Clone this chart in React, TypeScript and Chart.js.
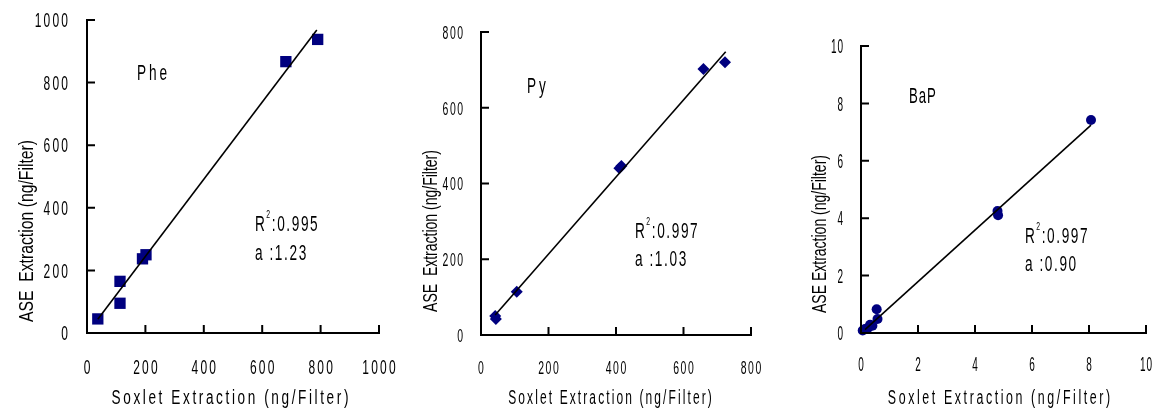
import React, { useEffect, useRef } from 'react';
import { Chart, registerables } from 'chart.js';

Chart.register(...registerables);

const FONT = "'Liberation Sans', Arial, sans-serif";
const NAVY = '#00007f';

// Phe panel
const pheSoxlet = [37, 113, 113, 190, 202, 681, 790];
const pheASE = [45, 95, 165, 237, 250, 867, 938];
const pheFitX = [37, 787];
const pheFitY = [44, 968];
const pheTicks = [0, 200, 400, 600, 800, 1000];

// Py panel
const pySoxlet = [42, 44, 106, 410, 416, 659, 723];
const pyASE = [50, 42, 114, 440, 446, 702, 720];
const pyFitX = [42, 725];
const pyFitY = [53, 748];
const pyTicks = [0, 200, 400, 600, 800];

// BaP panel
const bapSoxlet = [0.06, 0.14, 0.25, 0.32, 0.4, 0.55, 0.58, 4.79, 4.81, 8.07];
const bapASE = [0.09, 0.14, 0.18, 0.29, 0.25, 0.83, 0.49, 4.25, 4.1, 7.42];
const bapFitX = [0.14, 8.07];
const bapFitY = [0.12, 7.24];
const bapTicks = [0, 2, 4, 6, 8, 10];

const xTitleText = 'Soxlet Extraction (ng/Filter)';

type Style = { size: number; sx: number; spacing: number };

type Panel = {
  left: number;
  width: number;
  xs: number[];
  ys: number[];
  fitX: number[];
  fitY: number[];
  ticks: number[];
  pointStyle: string;
  radius: number;
  padTop: number;
  padRight: number;
  yWidth: number;
  xHeight: number;
  tickStyle: Style;
  yLabelGap: number;
  xLabelY: number;
  yTitle: { text: string; baseX: number; cy: number; style: Style };
  xTitle: { cx: number; cy: number; style: Style };
  name: { text: string; vx: number; vy: number; style: Style };
  r2: { value: string; slope: string; vx: number; vy1: number; vy2: number; style: Style };
};

const panels: Panel[] = [
  {
    left: 0, width: 400,
    xs: pheSoxlet, ys: pheASE, fitX: pheFitX, fitY: pheFitY, ticks: pheTicks,
    pointStyle: 'rect', radius: 8,
    padTop: 20, padRight: 21, yWidth: 87, xHeight: 77,
    tickStyle: { size: 20, sx: 0.6, spacing: 2.2 },
    yLabelGap: 19, xLabelY: 367,
    yTitle: { text: 'ASE  Extraction (ng/Filter)', baseX: 33, cy: 231, style: { size: 21, sx: 0.75, spacing: 0 } },
    xTitle: { cx: 230, cy: 397, style: { size: 20, sx: 0.68, spacing: 2.6 } },
    name: { text: 'Phe', vx: 171, vy: 834, style: { size: 22, sx: 0.62, spacing: 3 } },
    r2: { value: '0.995', slope: '1.23', vx: 575, vy1: 351, vy2: 259, style: { size: 22, sx: 0.62, spacing: 1.6 } },
  },
  {
    left: 390, width: 390,
    xs: pySoxlet, ys: pyASE, fitX: pyFitX, fitY: pyFitY, ticks: pyTicks,
    pointStyle: 'rectRot', radius: 6,
    padTop: 32, padRight: 29, yWidth: 91, xHeight: 75,
    tickStyle: { size: 19, sx: 0.55, spacing: 1.5 },
    yLabelGap: 18, xLabelY: 367,
    yTitle: { text: 'ASE  Extraction (ng/Filter)', baseX: 47, cy: 231, style: { size: 20, sx: 0.7, spacing: 0 } },
    xTitle: { cx: 220, cy: 397, style: { size: 20, sx: 0.6, spacing: 2.1 } },
    name: { text: 'Py', vx: 136, vy: 660, style: { size: 22, sx: 0.62, spacing: 3 } },
    r2: { value: '0.997', slope: '1.03', vx: 456, vy1: 277, vy2: 203, style: { size: 22, sx: 0.62, spacing: 1.6 } },
  },
  {
    left: 770, width: 383,
    xs: bapSoxlet, ys: bapASE, fitX: bapFitX, fitY: bapFitY, ticks: bapTicks,
    pointStyle: 'circle', radius: 5,
    padTop: 46, padRight: 7, yWidth: 91, xHeight: 77,
    tickStyle: { size: 20, sx: 0.5, spacing: 1 },
    yLabelGap: 18, xLabelY: 364,
    yTitle: { text: 'ASE Extraction (ng/Filter)', baseX: 56, cy: 234, style: { size: 20, sx: 0.7, spacing: 0 } },
    xTitle: { cx: 229, cy: 397, style: { size: 20, sx: 0.62, spacing: 2.6 } },
    name: { text: 'BaP', vx: 1.68, vy: 8.28, style: { size: 22, sx: 0.6, spacing: 1 } },
    r2: { value: '0.997', slope: '0.90', vx: 5.75, vy1: 3.42, vy2: 2.45, style: { size: 22, sx: 0.62, spacing: 1.6 } },
  },
];

type Ctx = CanvasRenderingContext2D & { letterSpacing: string };

// Measures condensed text; returns its visual width.
function measure(ctx: Ctx, text: string, st: Style): number {
  ctx.save();
  ctx.font = `${st.size}px ${FONT}`;
  ctx.letterSpacing = st.spacing / st.sx + 'px';
  const w = ctx.measureText(text).width * st.sx - st.spacing;
  ctx.restore();
  return w;
}

function drawText(
  ctx: Ctx, text: string, x: number, cy: number, st: Style,
  anchor: number, rotate = false,
) {
  const w = measure(ctx, text, st);
  ctx.save();
  ctx.font = `${st.size}px ${FONT}`;
  ctx.letterSpacing = st.spacing / st.sx + 'px';
  ctx.textAlign = 'left';
  ctx.textBaseline = 'alphabetic';
  ctx.fillStyle = '#000';
  if (rotate) {
    ctx.translate(x, cy);
    ctx.rotate(-Math.PI / 2);
    ctx.scale(st.sx, 1);
    ctx.fillText(text, (-w * anchor) / st.sx, 0);
  } else {
    const by = cy + st.size * 0.358;
    ctx.translate(x - w * anchor, by);
    ctx.scale(st.sx, 1);
    ctx.fillText(text, 0, 0);
  }
  ctx.restore();
  return w;
}

function makeOverlay(p: Panel) {
  return {
    id: 'overlay',
    afterDraw(chart: any) {
      const ctx = chart.ctx as Ctx;
      const xs = chart.scales.x;
      const ys = chart.scales.y;
      const { left, bottom } = chart.chartArea;
      const maxV = p.ticks[p.ticks.length - 1];
      ctx.save();
      ctx.strokeStyle = '#000';
      ctx.lineWidth = 2;
      ctx.lineCap = 'square';
      ctx.beginPath();
      ctx.moveTo(left, ys.getPixelForValue(maxV));
      ctx.lineTo(left, bottom);
      ctx.lineTo(xs.getPixelForValue(maxV), bottom);
      for (const v of p.ticks) {
        const py = ys.getPixelForValue(v);
        ctx.moveTo(left, py);
        ctx.lineTo(left + 7, py);
        const px = xs.getPixelForValue(v);
        ctx.moveTo(px, bottom);
        ctx.lineTo(px, bottom - 7);
      }
      ctx.stroke();
      ctx.restore();

      // tick labels
      for (const v of p.ticks) {
        const label = String(v);
        drawText(ctx, label, left - p.yLabelGap, ys.getPixelForValue(v), p.tickStyle, 1);
        drawText(ctx, label, xs.getPixelForValue(v), p.xLabelY, p.tickStyle, 0.5);
      }
      // axis titles
      drawText(ctx, p.yTitle.text, p.yTitle.baseX, p.yTitle.cy, p.yTitle.style, 0.5, true);
      drawText(ctx, xTitleText, p.xTitle.cx, p.xTitle.cy, p.xTitle.style, 0.5);
      // compound name
      drawText(ctx, p.name.text, xs.getPixelForValue(p.name.vx), ys.getPixelForValue(p.name.vy), p.name.style, 0);
      // R2 and slope
      const rx = xs.getPixelForValue(p.r2.vx);
      const ry1 = ys.getPixelForValue(p.r2.vy1);
      const ry2 = ys.getPixelForValue(p.r2.vy2);
      const st = p.r2.style;
      const wR = drawText(ctx, 'R', rx, ry1, st, 0);
      const sup: Style = { size: Math.round(st.size * 0.5), sx: st.sx, spacing: 0 };
      const wS = drawText(ctx, '2', rx + wR + st.spacing, ry1 - st.size * 0.42, sup, 0);
      drawText(ctx, ':' + p.r2.value, rx + wR + wS + st.spacing * 2, ry1, st, 0);
      drawText(ctx, 'a :' + p.r2.slope, rx, ry2, st, 0);
    },
  };
}

function PanelChart({ p }: { p: Panel }) {
  const ref = useRef<HTMLCanvasElement | null>(null);
  useEffect(() => {
    if (!ref.current) return;
    const points = p.xs.map((x, i) => ({ x, y: p.ys[i] }));
    const fit = p.fitX.map((x, i) => ({ x, y: p.fitY[i] }));
    const minV = p.ticks[0];
    const maxV = p.ticks[p.ticks.length - 1];
    const axisCommon = {
      type: 'linear' as const,
      min: minV,
      max: maxV,
      grid: { display: false, drawTicks: false },
      border: { display: false },
      ticks: { display: false },
      afterBuildTicks: (s: any) => { s.ticks = p.ticks.map((v) => ({ value: v })); },
    };
    const chart = new Chart(ref.current, {
      type: 'scatter',
      data: {
        datasets: [
          {
            data: fit,
            showLine: true,
            borderColor: '#000',
            borderWidth: 1.6,
            pointRadius: 0,
            pointHoverRadius: 0,
            clip: false as any,
          },
          {
            data: points,
            pointStyle: p.pointStyle as any,
            pointRadius: p.radius,
            pointHoverRadius: p.radius,
            backgroundColor: NAVY,
            borderColor: NAVY,
            borderWidth: 0,
            clip: false as any,
          },
        ],
      },
      options: {
        animation: false,
        responsive: false,
        events: [],
        layout: { padding: { top: p.padTop, right: p.padRight, left: 0, bottom: 0 } },
        plugins: { legend: { display: false }, tooltip: { enabled: false } },
        scales: {
          x: {
            ...axisCommon,
            position: 'bottom',
            afterFit: (s: any) => { s.height = p.xHeight; },
          },
          y: {
            ...axisCommon,
            position: 'left',
            afterFit: (s: any) => { s.width = p.yWidth; },
          },
        },
      },
      plugins: [makeOverlay(p) as any],
    });
    return () => chart.destroy();
  }, [p]);
  return (
    <canvas
      ref={ref}
      width={p.width}
      height={410}
      style={{ position: 'absolute', left: p.left, top: 0, width: p.width, height: 410 }}
    />
  );
}

export default function App() {
  return (
    <div style={{ position: 'fixed', left: 0, top: 0, width: 1153, height: 410, background: '#fff', overflow: 'hidden' }}>
      {panels.map((p, i) => (
        <PanelChart key={i} p={p} />
      ))}
    </div>
  );
}
